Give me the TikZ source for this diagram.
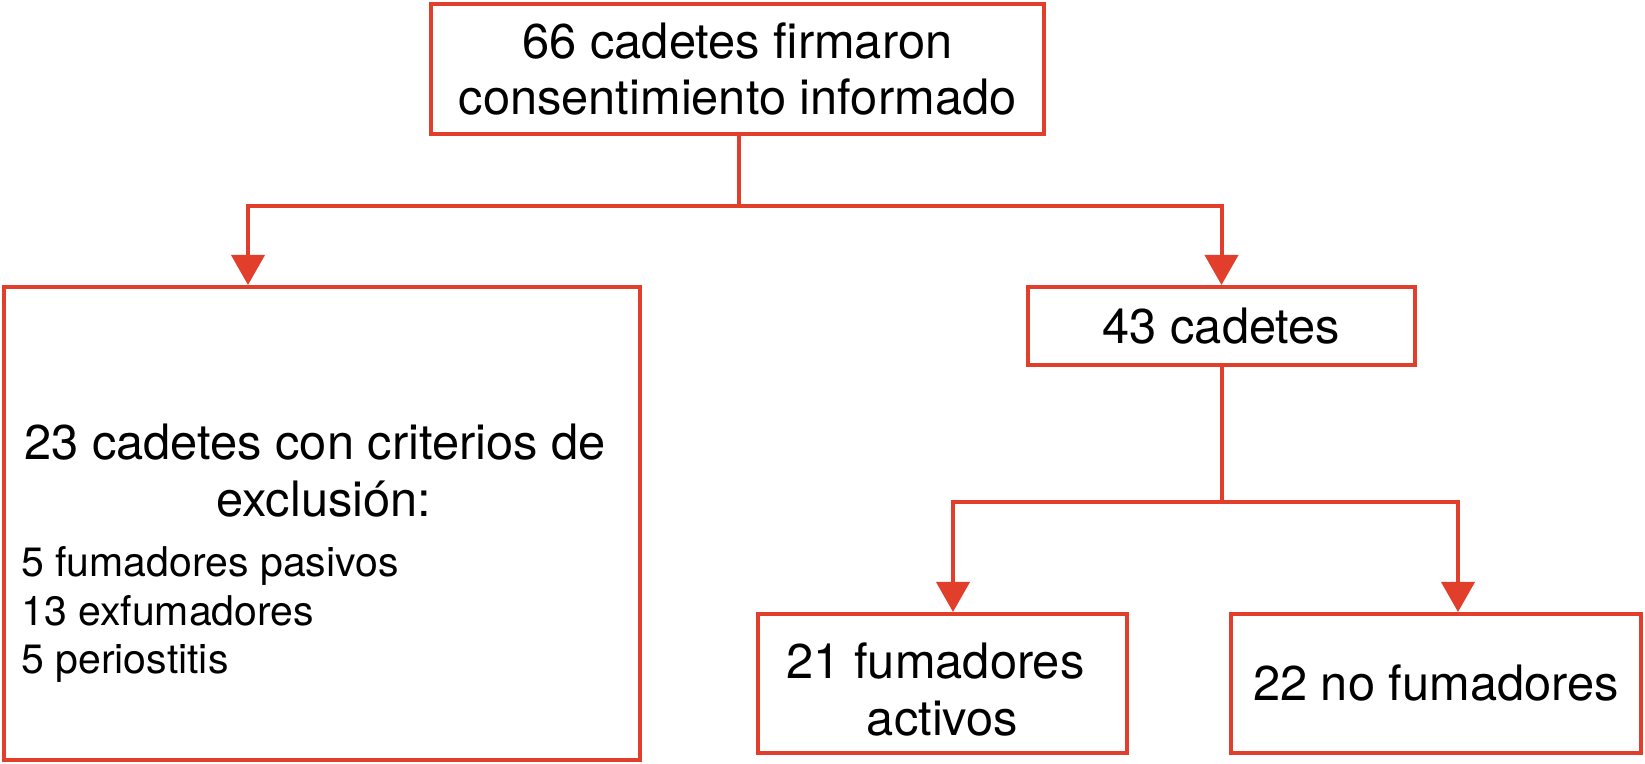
\documentclass[tikz,border=0pt]{standalone}
\usepackage{fontspec}
\setmainfont{TeX Gyre Heros}
\usetikzlibrary{arrows.meta}
\definecolor{flowred}{RGB}{226,62,44}
\begin{document}
\begin{tikzpicture}[x=0.5pt,y=-0.5pt,
  box/.style={draw=flowred,line width=2pt,inner sep=0pt,anchor=center,align=center,
    font=\fontsize{24.4}{27.8}\selectfont},
  arr/.style={draw=flowred,line width=2pt,-{Triangle[width=16.5pt,length=15pt]}},
  lin/.style={draw=flowred,line width=2pt},
  big/.style={inner sep=0pt,font=\fontsize{24.4}{28.5}\selectfont},
  small/.style={inner sep=0pt,font=\fontsize{20.5}{24.3}\selectfont}]
\useasboundingbox (0,0) rectangle (1645,764);
\node[box,minimum width=613pt*0.5,minimum height=130pt*0.5] (top) at (737.5,69)
  {66 cadetes firmaron\\consentimiento informado};
\node[box,minimum width=636pt*0.5,minimum height=473pt*0.5] (excl) at (322,523.5) {};
\node[box,minimum width=387pt*0.5,minimum height=78pt*0.5] (b43) at (1221.5,326) {43 cadetes};
\node[box,minimum width=369pt*0.5,minimum height=139pt*0.5] (act) at (942.5,683.5) {};
\node[box,minimum width=410pt*0.5,minimum height=139pt*0.5] (non) at (1436,683.5)
  {22 no fumadores};
\node[big,align=center,anchor=south] (acttext) at (935.5,737)
  {21 fumadores\\\hspace*{7pt}activos};
\node[big,align=center,anchor=south] (exh) at (315,518)
  {23 cadetes con criterios de\\\hspace*{9pt}exclusión:};
\node[small,align=left,anchor=north west] (exl) at (21,546)
  {5 fumadores pasivos\\13 exfumadores\\5 periostitis};
\coordinate (j1) at (739,206);
\coordinate (la) at (248,285);
\coordinate (j2) at (1222,502);
\coordinate (ra) at (953,612);
\coordinate (rb) at (1458,612);
\draw[lin] (top.south -| j1) -- (j1);
\draw[arr] (j1) -| (la);
\draw[arr] (j1) -| (b43.north);
\draw[lin] (b43.south -| j2) -- (j2);
\draw[arr] (j2) -| (ra);
\draw[arr] (j2) -| (rb);
\end{tikzpicture}
\end{document}
